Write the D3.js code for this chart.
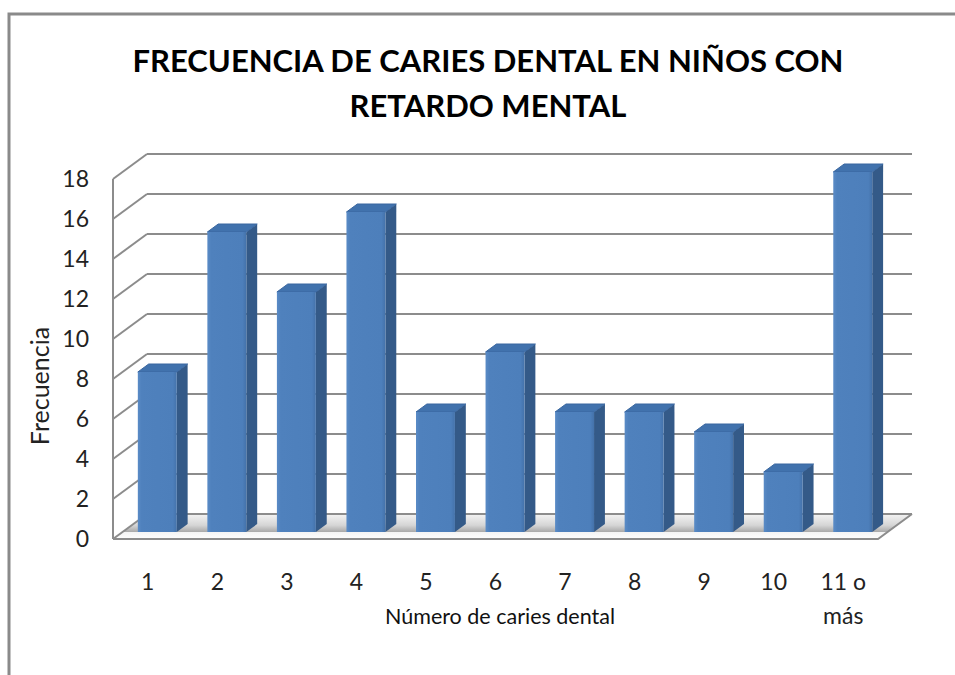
<!DOCTYPE html>
<html lang="es">
<head>
<meta charset="UTF-8" />
<title>Frecuencia de caries dental</title>
<script src="https://cdn.jsdelivr.net/npm/d3@7"></script>
<style>
  html, body { margin: 0; padding: 0; background: #fff; overflow: hidden; }
  svg { display: block; font-family: Lato, "Open Sans", sans-serif; }
</style>
</head>
<body>
<div id="chart"></div>
<script>
// data
const categories = ['1', '2', '3', '4', '5', '6', '7', '8', '9', '10', '11 o más'];
const values = [8, 15, 12, 16, 6, 9, 6, 6, 5, 3, 18];
const yTicks = [0, 2, 4, 6, 8, 10, 12, 14, 16, 18];
const titleLines = ['FRECUENCIA DE CARIES DENTAL EN NIÑOS CON', 'RETARDO MENTAL'];

const width = 955, height = 675;
const depthX = 34, depthY = -25;     // offset of back wall from front plane
const barD0 = 0.28, barD1 = 0.6;      // bar depth inside the box

const svg = d3.select('#chart').append('svg')
  .attr('width', width).attr('height', height);

const defs = svg.append('defs');
const fg = defs.append('linearGradient').attr('id', 'floorGrad')
  .attr('gradientUnits', 'userSpaceOnUse')
  .attr('x1', 0).attr('y1', 513).attr('x2', 0).attr('y2', 540);
[['0%', '#f6f6f6'], ['45%', '#d6d6d6'], ['70%', '#a9a9a9'], ['71%', '#f4f4f4'], ['100%', '#ffffff']]
  .forEach(([o, c]) => fg.append('stop').attr('offset', o).attr('stop-color', c));

const frontG = defs.append('linearGradient').attr('id', 'frontGrad')
  .attr('x1', 0).attr('y1', 0).attr('x2', 1).attr('y2', 0);
[['0%', '#5a8bc6'], ['10%', '#4f81bd'], ['90%', '#4d7fbb'], ['100%', '#4472aa']]
  .forEach(([o, c]) => frontG.append('stop').attr('offset', o).attr('stop-color', c));

// outer frame (only its left and top edges are inside the picture)
svg.append('path')
  .attr('d', 'M9,' + height + ' V14 H' + width)
  .attr('fill', 'none').attr('stroke', '#8a8a8a').attr('stroke-width', 3);

// scales
const x = d3.scaleBand().domain(categories).range([113, 878])
  .paddingInner(0.44).paddingOuter(0.22);
const xCat = d3.scaleBand().domain(categories).range([113, 878]);
const y = d3.scaleLinear().domain([0, 18]).range([539, 179]);

const P = (px, py, d) => [px + d * depthX, py + d * depthY];
const poly = pts => pts.map(p => p.join(',')).join(' ');

const x0 = xCat.range()[0], x1 = xCat.range()[1];

// floor
svg.append('polygon')
  .attr('points', poly([P(x0, y(0), 0), P(x0, y(0), 1), P(x1, y(0), 1), P(x1, y(0), 0)]))
  .attr('fill', 'url(#floorGrad)');

const grid = svg.append('g').attr('stroke', '#8c8c8c').attr('stroke-width', 2).attr('fill', 'none');

// back wall gridlines + left wall diagonals
grid.selectAll('.back').data(yTicks).join('line')
  .attr('x1', d => P(x0, y(d), 1)[0]).attr('y1', d => P(x0, y(d), 1)[1])
  .attr('x2', d => P(x1, y(d), 1)[0]).attr('y2', d => P(x1, y(d), 1)[1]);
grid.selectAll('.side').data(yTicks).join('line')
  .attr('x1', d => P(x0, y(d), 0)[0]).attr('y1', d => P(x0, y(d), 0)[1])
  .attr('x2', d => P(x0, y(d), 1)[0]).attr('y2', d => P(x0, y(d), 1)[1]);

// front vertical axis and floor front edges
grid.append('line').attr('x1', x0).attr('y1', y(18)).attr('x2', x0).attr('y2', y(0));
grid.append('polyline')
  .attr('points', poly([P(x0, y(0), 0), P(x1, y(0), 0), P(x1, y(0), 1)]));

// bars
const bars = svg.append('g').selectAll('g').data(values).join('g');
const bx0 = (d, i) => x(categories[i]);
const bx1 = (d, i) => x(categories[i]) + x.bandwidth();

bars.append('polygon') // side face
  .attr('points', (d, i) => poly([
    P(bx1(d, i), y(d), barD0), P(bx1(d, i), y(d), barD1),
    P(bx1(d, i), y(0), barD1), P(bx1(d, i), y(0), barD0)]))
  .attr('fill', '#345a88');
bars.append('polygon') // top face
  .attr('points', (d, i) => poly([
    P(bx0(d, i), y(d), barD0), P(bx0(d, i), y(d), barD1),
    P(bx1(d, i), y(d), barD1), P(bx1(d, i), y(d), barD0)]))
  .attr('fill', '#4172ad').attr('stroke', '#3a67a0').attr('stroke-width', 1)
  .attr('stroke-linejoin', 'round');
bars.append('rect') // front face
  .attr('x', (d, i) => P(bx0(d, i), 0, barD0)[0])
  .attr('y', d => P(0, y(d), barD0)[1])
  .attr('width', x.bandwidth())
  .attr('height', d => y(0) - y(d))
  .attr('fill', 'url(#frontGrad)');

// y tick labels
svg.append('g').attr('font-size', 23).attr('fill', '#222').attr('text-anchor', 'end')
  .selectAll('text').data(yTicks).join('text')
  .attr('x', 89).attr('y', d => y(d)).attr('dy', '0.36em')
  .text(d => d);

// category labels (the last one wraps)
const catText = svg.append('g').attr('font-size', 23).attr('fill', '#222').attr('text-anchor', 'middle')
  .selectAll('text').data(categories).join('text')
  .attr('x', d => xCat(d) + xCat.bandwidth() / 2).attr('y', 590);
catText.each(function (d) {
  const parts = d === '11 o más' ? ['11 o', 'más'] : [d];
  const t = d3.select(this);
  parts.forEach((p, k) => t.append('tspan')
    .attr('x', xCat(d) + xCat.bandwidth() / 2).attr('dy', k ? 34 : 0).text(p));
});

// axis titles
svg.append('text').attr('x', 500).attr('y', 624).attr('text-anchor', 'middle')
  .attr('font-size', 21.5).attr('fill', '#111').text('Número de caries dental');
svg.append('text').attr('transform', 'translate(49,386) rotate(-90)')
  .attr('text-anchor', 'middle').attr('font-size', 25).attr('fill', '#222').text('Frecuencia');

// chart title
svg.append('g').attr('font-size', 31).attr('font-weight', 'bold').attr('fill', '#000')
  .attr('text-anchor', 'middle')
  .selectAll('text').data(titleLines).join('text')
  .attr('x', 488).attr('y', (d, i) => 72 + i * 45)
  .text(d => d);
</script>
</body>
</html>
